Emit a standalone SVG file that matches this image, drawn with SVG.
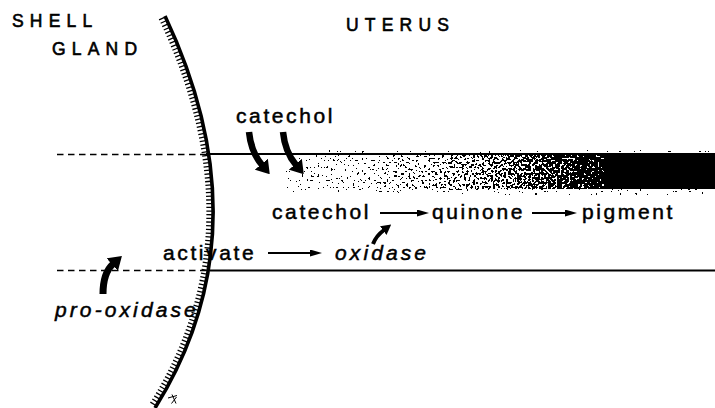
<svg xmlns="http://www.w3.org/2000/svg" width="715" height="408" viewBox="0 0 715 408">
  <style>
    .lbl { font-family: "Liberation Sans", Arial, Helvetica, sans-serif; font-size: 21px; fill: #000; stroke: #000; stroke-width: 0.5; letter-spacing: 2.6px; }
    .it { font-style: italic; letter-spacing: 3.1px; }
    .cap { font-size: 17.5px; letter-spacing: 6.2px; stroke-width: 0.6; }
    .dash { stroke: #000; stroke-width: 1.5; stroke-dasharray: 6.5 4.5; fill: none; }
    .rule { stroke: #000; stroke-width: 1.8; fill: none; }
    .thick { stroke: #000; fill: none; stroke-linecap: butt; }
    .thin { stroke: #000; stroke-width: 2; fill: none; marker-end: url(#thinHead); }
  </style>
  <defs>
    <marker id="bigHead" viewBox="0 -8.5 13 17" refX="1" refY="0" markerWidth="13" markerHeight="17" markerUnits="userSpaceOnUse" orient="auto">
      <path d="M0,-8.5 L13,0 L0,8.5 z" fill="#000"/>
    </marker>
    <marker id="midHead" viewBox="0 -5.5 10 11" refX="1" refY="0" markerWidth="10" markerHeight="11" markerUnits="userSpaceOnUse" orient="auto">
      <path d="M0,-5.5 L10,0 L0,5.5 z" fill="#000"/>
    </marker>
    <marker id="thinHead" viewBox="0 -3.5 12 7" refX="1" refY="0" markerWidth="12" markerHeight="7" markerUnits="userSpaceOnUse" orient="auto">
      <path d="M0,-3.5 L12,0 L0,3.5 z" fill="#000"/>
    </marker>
    <!-- pigment density along the duct: faint near the gland, solid further down -->
    <linearGradient id="density" gradientUnits="userSpaceOnUse" x1="295" y1="0" x2="606" y2="0">
      <stop offset="0" stop-color="#000" stop-opacity="0"/>
      <stop offset="0.4" stop-color="#000" stop-opacity="0.22"/>
      <stop offset="0.7" stop-color="#000" stop-opacity="0.5"/>
      <stop offset="0.88" stop-color="#000" stop-opacity="0.75"/>
      <stop offset="1" stop-color="#000" stop-opacity="1"/>
    </linearGradient>
    <!-- turns the density ramp into a stipple by thresholding against noise -->
    <filter id="stipple" filterUnits="userSpaceOnUse" x="285" y="150" width="435" height="45" color-interpolation-filters="sRGB">
      <feTurbulence type="fractalNoise" baseFrequency="0.45" numOctaves="1" seed="11" result="noise"/>
      <feColorMatrix in="noise" type="matrix" values="0 0 0 0 0  0 0 0 0 0  0 0 0 0 0  1 0 0 0 0" result="na"/>
      <feComposite in="SourceAlpha" in2="na" operator="arithmetic" k1="0" k2="1.4" k3="3.5" k4="-1.95" result="sum"/>
      <feComponentTransfer in="sum">
        <feFuncR type="linear" slope="0" intercept="0"/>
        <feFuncG type="linear" slope="0" intercept="0"/>
        <feFuncB type="linear" slope="0" intercept="0"/>
        <feFuncA type="discrete" tableValues="0 1"/>
      </feComponentTransfer>
    </filter>
  </defs>

  <!-- duct walls -->
  <g id="duct">
    <path class="dash" d="M57,154.5 H206"/>
    <path class="rule" d="M206,154 H715"/>
    <path class="dash" d="M57,270.5 H210"/>
    <path class="rule" d="M210,270.5 H715"/>
    <rect x="292" y="155" width="316" height="34" fill="url(#density)" filter="url(#stipple)"/>
    <rect x="604" y="154" width="111" height="35" fill="#000"/>
  </g>

  <!-- boundary between shell gland and uterus, hatched on the gland side -->
  <g id="boundary">
    <path d="M161.5,18 Q262,230 151.5,406" fill="none" stroke="#000" stroke-width="6" stroke-dasharray="1.3 2.4"/>
    <path d="M165,16 Q266,230 155,408" fill="none" stroke="#000" stroke-width="3.6"/>
    <path d="M168,398 l9,-2.5 M172,394.5 l4,9 M176.5,397 l-5,6.5" fill="none" stroke="#000" stroke-width="1"/>
  </g>

  <g id="labels">
    <text class="lbl cap" x="12" y="27">SHELL</text>
    <text class="lbl cap" x="52" y="55">GLAND</text>
    <text class="lbl cap" x="346" y="31">UTERUS</text>
  </g>

  <g id="catechol-in">
    <text class="lbl" x="236" y="123">catechol</text>
  </g>
  <g id="catechol">
    <text class="lbl" x="272" y="219">catechol</text>
  </g>
  <g id="quinone">
    <text class="lbl" x="432" y="219">quinone</text>
  </g>
  <g id="pigment">
    <text class="lbl" x="582" y="219">pigment</text>
  </g>
  <g id="activate">
    <text class="lbl" x="163" y="260">activate</text>
  </g>
  <g id="oxidase">
    <text class="lbl it" x="335" y="260">oxidase</text>
  </g>
  <g id="pro-oxidase">
    <text class="lbl it" x="55" y="317">pro-oxidase</text>
  </g>

  <g id="connectors">
    <path class="thick" stroke-width="6.5" marker-end="url(#bigHead)" d="M249,132 Q251,152 262,165"/>
    <path class="thick" stroke-width="6.5" marker-end="url(#bigHead)" d="M283,132 Q285,152 296,165"/>
    <path class="thick" stroke-width="7" marker-end="url(#bigHead)" d="M103,294 Q103,273 113,264"/>
    <path class="thick" stroke-width="4" marker-end="url(#midHead)" d="M373,244 Q376,236 384,230"/>
    <path class="thin" d="M380,213 H418"/>
    <path class="thin" d="M532,213 H566"/>
    <path class="thin" d="M268,253 H311"/>
  </g>
</svg>
